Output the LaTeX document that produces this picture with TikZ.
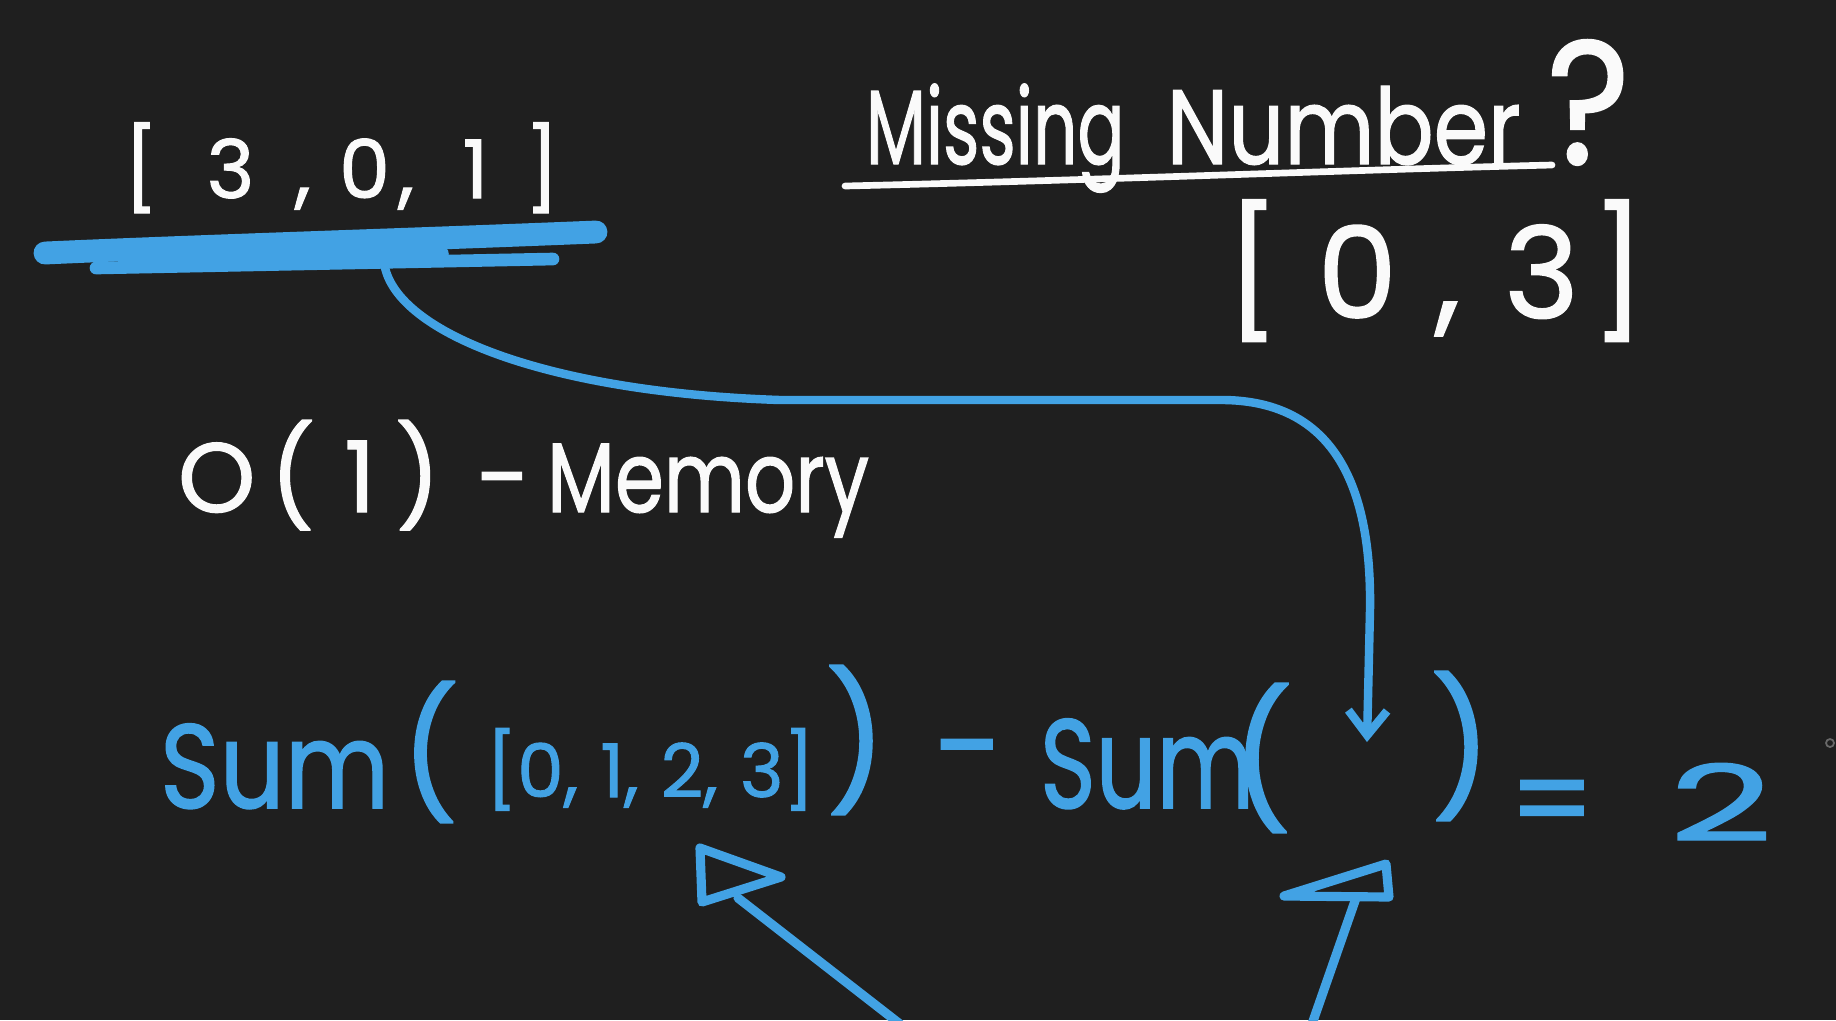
\documentclass[tikz,border=0pt]{standalone}
\usepackage{fontspec}
\setmainfont{Poppins}[FakeBold=1.3]
\usetikzlibrary{arrows.meta}
\definecolor{bg}{RGB}{31,31,31}
\definecolor{penblue}{RGB}{66,162,228}
\definecolor{penwhite}{RGB}{250,250,250}
\definecolor{dotgray}{RGB}{105,105,105}
\begin{document}
\begin{tikzpicture}[x=0.01cm,y=-0.01cm,
  wtext/.style={text=penwhite, inner sep=0pt, outer sep=0pt},
  btext/.style={text=penblue, inner sep=0pt, outer sep=0pt},
  bline/.style={draw=penblue, line width=2.4pt, line cap=round, line join=round},
  scrib/.style={draw=penblue, line cap=round, line join=round},
  wline/.style={draw=penwhite, line width=1.9pt, line cap=round}]
\fill[bg] (0,0) rectangle (1836,1020);
\useasboundingbox (0,0) rectangle (1836,1020);

% ---- top-left array with blue scribble underline
\node[wtext, font=\fontsize{23}{27}\selectfont, anchor=base west] (arr) at (124,198)
  {[\hspace{0.6em}3\hspace{0.5em},\hspace{0.35em}0\hspace{0.1em},\hspace{0.6em}1\hspace{0.45em}]};
\draw[scrib, line width=6.5pt] (45,253) .. controls (200,246) and (400,240) .. (596,232);
\draw[scrib, line width=5pt] (140,262) -- (440,254);
\draw[scrib, line width=3.6pt] (96,268) -- (553,259);
\coordinate (ulstart) at (384,262);

% ---- title
\node[wtext, font=\fontsize{30}{34}\selectfont, anchor=base west] (title) at (866,164)
  {\scalebox{0.66}[1]{Missing}\hspace{0.4em}\scalebox{0.83}[1]{Number}\hspace{0.25em}{\fontsize{50}{54}\selectfont\scalebox{0.9}[1]{?}}};
\draw[wline] (845,186) .. controls (1100,180) and (1350,170) .. (1552,165);

% ---- answer
\node[wtext, font=\fontsize{36}{40}\selectfont, anchor=base west] (ans) at (1226,318)
  {[\hspace{0.3em}0\hspace{0.3em},\hspace{0.35em}3\hspace{0.1em}]};

% ---- memory note
\node[wtext, font=\fontsize{28}{32}\selectfont, anchor=base west] (mem) at (178,512)
  {O\hspace{0.15em}(\hspace{0.3em}1\hspace{0.2em})\hspace{0.1em} -\hspace{-0.1em} \scalebox{0.8}[1]{Memory}};

% ---- equation
\node[btext, font=\fontsize{34}{38}\selectfont, anchor=base west, xscale=0.85] (sumA) at (160,808) {Sum};
\node[btext, font=\fontsize{36}{40}\selectfont] (lpA) at (430,752) {(};
\node[btext, font=\fontsize{21}{25}\selectfont, anchor=base west] (lst) at (486,797)
  {[0,\hspace{0.3em}1,\hspace{0.3em}2,\hspace{0.3em}3]};
\node[btext, font=\fontsize{38}{42}\selectfont] (rpA) at (856,740) {)};
\node[btext, font=\fontsize{36}{40}\selectfont] (minus) at (969,765) {-};
\node[btext, font=\fontsize{36}{40}\selectfont, anchor=base west, xscale=0.75] (sumB) at (1040,808) {Sum};
\node[btext, font=\fontsize{38}{42}\selectfont] (lpB) at (1262,758) {(};
\node[btext, font=\fontsize{38}{42}\selectfont] (rpB) at (1461,746) {)};
\node[btext, font=\fontsize{34}{38}\selectfont] (eq) at (1552,811) {=};
\node[btext, font=\fontsize{30}{34}\selectfont, xscale=1.7] (two) at (1721,802) {2};

% ---- curved connector from the array into the empty Sum( )
\coordinate (curvetip) at (1367,742);
\draw[bline, -{Straight Barb[length=7pt,width=11pt]}] (ulstart)
  .. controls (392,330) and (540,392) .. (780,400) -- (1225,400)
  .. controls (1330,402) and (1372,480) .. (1370,610) -- (curvetip);

% ---- arrows from below
\coordinate (a1s) at (900,1024);
\coordinate (a1e) at (738,898);
\draw[bline, line width=2.6pt] (a1s) -- (a1e);
\draw[bline, line width=2.6pt] (700,848) -- (702,902) -- (781,877) -- cycle;

\coordinate (a2s) at (1312,1024);
\coordinate (a2e) at (1356,898);
\draw[bline, line width=2.6pt] (a2s) -- (a2e);
\draw[bline, line width=2.6pt] (1284,896) -- (1386,864) -- (1389,897) -- cycle;

% ---- tiny mark at right edge
\draw[dotgray, line width=0.5pt] (1830,743) circle (4);
\end{tikzpicture}
\end{document}
